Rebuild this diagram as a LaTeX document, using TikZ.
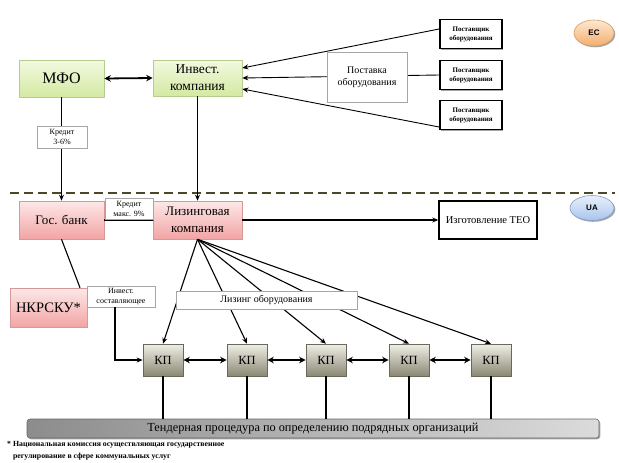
\documentclass[tikz,border=0pt]{standalone}
\usepackage{fontspec}
\setmainfont{Liberation Serif}
\newfontfamily\sansf{Liberation Sans}
\usetikzlibrary{arrows.meta,shadows,shapes.geometric}
\definecolor{gtop}{HTML}{F2F9E0}
\definecolor{gbot}{HTML}{D4E9A2}
\definecolor{gbrd}{HTML}{B8CC92}
\definecolor{ptop}{HTML}{FDE8E8}
\definecolor{pbot}{HTML}{F2A4A4}
\definecolor{pbrd}{HTML}{D89898}
\definecolor{ktop}{HTML}{F0EFE6}
\definecolor{kbot}{HTML}{8A8874}
\definecolor{kbrd}{HTML}{6A685A}
\definecolor{etop}{HTML}{FDE8D2}
\definecolor{ebot}{HTML}{F3AE6E}
\definecolor{ebrd}{HTML}{D99C60}
\definecolor{utop}{HTML}{E8F0FB}
\definecolor{ubot}{HTML}{A8C4EC}
\definecolor{ubrd}{HTML}{7E9CC8}
\definecolor{dashc}{HTML}{4A4828}
\begin{document}
\begin{tikzpicture}[x=1pt,y=-1pt,
  shad/.style={drop shadow={shadow xshift=1.3pt,shadow yshift=-1.3pt,fill=black,opacity=0.35}},
  gbox/.style={draw=gbrd,line width=0.6pt,top color=gtop,bottom color=gbot,shad,align=center,inner sep=0pt},
  pbox/.style={draw=pbrd,line width=0.6pt,top color=ptop,bottom color=pbot,shad,align=center,inner sep=0pt},
  kpbox/.style={draw=kbrd,line width=0.6pt,top color=ktop,bottom color=kbot,shad,align=center,inner sep=0pt,minimum width=40pt,minimum height=32pt,font=\fontsize{12.5}{14}\selectfont},
  lbl/.style={draw=gray!70,line width=0.6pt,fill=white,shad,align=center,inner sep=0pt},
  supbox/.style={draw=black,line width=1.8pt,fill=white,shad,align=center,inner sep=0pt,minimum width=62pt,minimum height=29pt,font=\bfseries\fontsize{7}{9}\selectfont},
  ovl/.style={ellipse,draw=#1brd,line width=0.6pt,top color=#1top,bottom color=#1bot,shad,inner sep=0pt,font=\sansf\bfseries\fontsize{8}{9}\selectfont},
  ln/.style={line width=1.1pt,black},
  arr/.style={ln,-{Stealth[length=6pt,width=5pt]}},
  darr/.style={line width=1.8pt,black,{Stealth[length=6.5pt,width=6.5pt]}-{Stealth[length=6.5pt,width=6.5pt]}},
  sarr/.style={line width=0.9pt,black,-{Stealth[length=6pt,width=5pt]}}
]
\useasboundingbox (0,0) rectangle (619,463);

% EC region
\node[gbox,minimum width=85pt,minimum height=37pt,font=\fontsize{16}{18}\selectfont] (mfo) at (61.5,78.5) {МФО};
\node[gbox,minimum width=89pt,minimum height=36pt,font=\fontsize{13.5}{17}\selectfont] (inv) at (197.5,78) {Инвест.\\компания};
\node[supbox] (s1) at (471,34) {Поставщик\\оборудования};
\node[supbox] (s2) at (471,75) {Поставщик\\оборудования};
\node[supbox] (s3) at (471,115) {Поставщик\\оборудования};
\node[ovl=e,minimum width=40pt,minimum height=26pt] (ec) at (594,33) {EC};

\draw[sarr] ([yshift=5pt]s1.west) -- ([yshift=10pt]inv.east);
\draw[sarr] (s2.west) -- ([yshift=0pt]inv.east);
\draw[sarr] ([yshift=-12pt]s3.west) -- ([yshift=-11pt]inv.east);
\node[lbl,minimum width=80pt,minimum height=50pt,font=\fontsize{10}{12}\selectfont] (post) at (367,77) {Поставка\\оборудования};

\draw[darr] (mfo.east) -- (inv.west);

% border
\coordinate (dl) at (10,193);
\coordinate (dr) at (615,193);
\draw[dashc,line width=2.3pt,dash pattern=on 9pt off 5pt] (dl) -- (dr);

% UA region
\node[pbox,minimum width=85pt,minimum height=38pt,font=\fontsize{13}{15}\selectfont] (gos) at (61.5,220) {Гос. банк};
\node[pbox,minimum width=89pt,minimum height=38pt,font=\fontsize{13}{17}\selectfont] (liz) at (197.5,220) {Лизинговая\\компания};
\node[draw=black,line width=1.4pt,fill=white,shad,minimum width=98pt,minimum height=38pt,inner sep=0pt,font=\fontsize{10.5}{12}\selectfont] (teo) at (488,220) {Изготовление ТЕО};
\node[ovl=u,minimum width=44pt,minimum height=25pt] (ua) at (592,208) {UA};

\draw[arr] (mfo.south) -- (gos.north);
\node[lbl,minimum width=50pt,minimum height=22pt,font=\fontsize{8}{9.5}\selectfont] (k1) at (62,137) {Кредит\\3-6\%};
\draw[arr] (inv.south) -- (liz.north);

\draw[line width=1.6pt] (gos.east) -- (liz.west);
\node[lbl,minimum width=48pt,minimum height=21pt,font=\fontsize{8}{9.5}\selectfont] (k2) at (129,209) {Кредит\\макс. 9\%};
\draw[arr] (liz.east) -- (teo.west);

\node[pbox,minimum width=77pt,minimum height=39pt,font=\fontsize{14.5}{16}\selectfont] (nkr) at (48.5,307.5) {НКРСКУ*};
\draw[ln] (gos.south) -- ([xshift=31.5pt]nkr.north);

% KPs
\node[kpbox] (kp1) at (163,360) {КП};
\node[kpbox] (kp2) at (247,360) {КП};
\node[kpbox] (kp3) at (326,360) {КП};
\node[kpbox] (kp4) at (409,360) {КП};
\node[kpbox] (kp5) at (491,360) {КП};

\node[lbl,minimum width=68pt,minimum height=21pt,font=\fontsize{8}{9.5}\selectfont] (invs) at (121,296.5) {Инвест.\\составляющее};
\draw[arr] ([xshift=-6pt]invs.south) |- (kp1.west);

\foreach \k in {kp1,kp2,kp3,kp4,kp5}
  \draw[arr] (liz.south) -- (\k.north);
\node[lbl,minimum width=181pt,minimum height=18pt,font=\fontsize{10}{12}\selectfont] (lizob) at (266.5,300) {Лизинг оборудования};

\draw[darr] (kp1.east) -- (kp2.west);
\draw[darr] (kp2.east) -- (kp3.west);
\draw[darr] (kp3.east) -- (kp4.west);
\draw[darr] (kp4.east) -- (kp5.west);

\node[draw=gray!80!black,line width=0.6pt,rounded corners=3pt,left color=black!45,right color=black!14,shad,minimum width=572pt,minimum height=19pt,inner sep=0pt,font=\fontsize{12.3}{14}\selectfont] (tender) at (313,428.5) {Тендерная процедура по определению подрядных организаций};
\foreach \k in {kp1,kp2,kp3,kp4,kp5}
  \draw[line width=1.6pt] (\k.south) -- (\k.south |- tender.north);

\node[anchor=north west,inner sep=0pt,align=left,font=\bfseries\fontsize{7.8}{12}\selectfont] (fn) at (7,441) {*\ Национальная комиссия осуществляющая государственное\\\phantom{*\ }регулирование в сфере коммунальных услуг};
\end{tikzpicture}
\end{document}
